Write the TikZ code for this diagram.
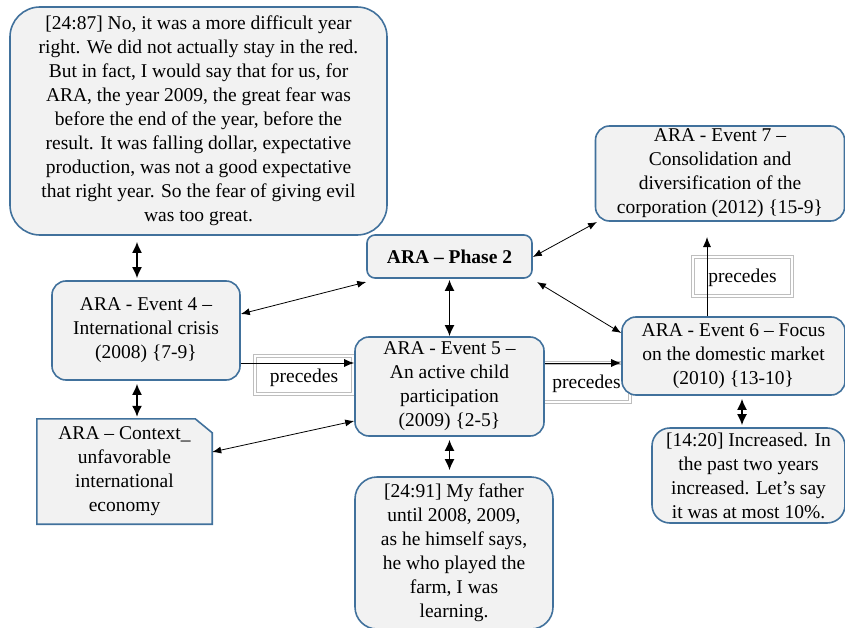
\documentclass[tikz,border=0pt]{standalone}
\usepackage{fontspec}
\setmainfont{Liberation Serif}
\usepackage{xcolor}
\usetikzlibrary{arrows.meta,positioning,calc,backgrounds}
\definecolor{boxfill}{RGB}{242,242,242}
\definecolor{boxline}{RGB}{65,113,156}
\definecolor{tagline}{RGB}{190,190,190}

\begin{document}
\begin{tikzpicture}[
    x=1pt, y=-1pt,
    every node/.style={font=\fontsize{19.5}{24}\selectfont, align=center, inner sep=0pt},
    event/.style={draw=boxline, fill=boxfill, line width=1.6pt, rounded corners=14pt},
    quote/.style={event, rounded corners=30pt},
    tagbox/.style={draw=tagline, line width=0.8pt, double=white, double distance=1.5pt},
    link/.style={{Latex[length=9pt,width=7pt]}-{Latex[length=9pt,width=7pt]}, line width=0.8pt},
    bold link/.style={{Latex[length=11pt,width=10pt]}-{Latex[length=11pt,width=10pt]}, line width=1.6pt},
    arrow/.style={-{Latex[length=10pt,width=8pt]}, line width=0.9pt}
]
    \useasboundingbox (0,0) rectangle (845,628);

    % Precedes label frames (behind the boxes)
    \node[tagbox, minimum width=98pt, minimum height=38pt] (p45) at (304,375) {};
    \node[tagbox, minimum width=87pt, minimum height=39pt] (p56) at (586.5,382.5) {};
    \node[tagbox, minimum width=99pt, minimum height=39pt] (p67) at (742.5,276.5) {};

    % Quotes
    \node[quote, minimum width=377pt, minimum height=228pt] (q87) at (198.5,121)
        {[24:87] No, it was a more difficult year\\right. We did not actually stay in the red.\\But in fact, I would say that for us, for\\ARA, the year 2009, the great fear was\\before the end of the year, before the\\result. It was falling dollar, expectative\\production, was not a good expectative\\that right year. So the fear of giving evil\\was too great.};
    \node[quote, rounded corners=22pt, minimum width=198pt, minimum height=152pt] (q91) at (454,553)
        {[24:91] My father\\until 2008, 2009,\\as he himself says,\\he who played the\\farm, I was\\learning.};
    \node[quote, rounded corners=18pt, minimum width=193pt, minimum height=95pt] (q20) at (748.5,475.5)
        {[14:20] Increased. In\\the past two years\\increased. Let's say\\it was at most 10\%.};

    % Phase and events
    \node[event, rounded corners=8pt, minimum width=165pt, minimum height=43pt] (phase) at (449.5,256.5)
        {\bfseries ARA -- Phase 2};
    \node[event, minimum width=188pt, minimum height=99pt] (ev4) at (146,330.5)
        {ARA - Event 4 --\\International crisis\\(2008) \{7-9\}};
    \node[event, minimum width=189pt, minimum height=99pt] (ev5) at (449.5,386.5)
        {ARA - Event 5 --\\An active child\\participation\\(2009) \{2-5\}};
    \node[event, minimum width=223pt, minimum height=78pt] (ev6) at (733.5,356)
        {ARA - Event 6 -- Focus\\on the domestic market\\(2010) \{13-10\}};
    \node[event, minimum width=249pt, minimum height=95pt] (ev7) at (720,173.5)
        {ARA - Event 7 --\\Consolidation and\\diversification of the\\corporation (2012) \{15-9\}};

    % Context with folded corner
    \node[minimum width=175pt, minimum height=105pt] (ctx) at (124.5,471.5)
        {ARA -- Context\_\\unfavorable\\international\\economy};
    \begin{scope}[on background layer]
        \draw[draw=boxline, fill=boxfill, line width=1.6pt]
            (ctx.north west) -- ($(ctx.north east)+(-17,0)$) -- ($(ctx.north east)+(0,14)$)
            -- (ctx.south east) -- (ctx.south west) -- cycle;
    \end{scope}

    % Precedes arrows
    \draw[arrow] (ev4.east |- 0,363) -- (ev5.west |- 0,363);
    \draw[arrow] (ev5.east |- 0,363) -- (ev6.west |- 0,363);
    \draw[arrow] (707,0 |- ev6.north) -- (707,237);

    \node at (304,378) {precedes};
    \node at (586.5,384) {precedes};
    \node at (742.5,278) {precedes};

    % Links
    \draw[link] (ev4.east |- 0,314) -- (phase.west |- 0,282);
    \draw[link] (phase.east |- 0,257) -- (597,222);
    \draw[link] (537,282) -- (ev6.north west |- 0,333);
    \draw[link] (ctx.east |- 0,452) -- (ev5.west |- 0,421);

    \draw[bold link, shorten <=6pt, shorten >=2pt] (137,0 |- q87.south) -- (137,0 |- ev4.north);
    \draw[bold link, shorten <=3pt, shorten >=2pt] (137,0 |- ev4.south) -- (137,0 |- ctx.north);
    \draw[bold link, shorten <=1pt, shorten >=0pt] (449.5,0 |- phase.south) -- (449.5,0 |- ev5.north);
    \draw[bold link, shorten <=3pt, shorten >=6pt] (449.5,0 |- ev5.south) -- (449.5,0 |- q91.north);
    \draw[bold link, shorten <=3pt, shorten >=2pt] (742,0 |- ev6.south) -- (742,0 |- q20.north);
\end{tikzpicture}
\end{document}
